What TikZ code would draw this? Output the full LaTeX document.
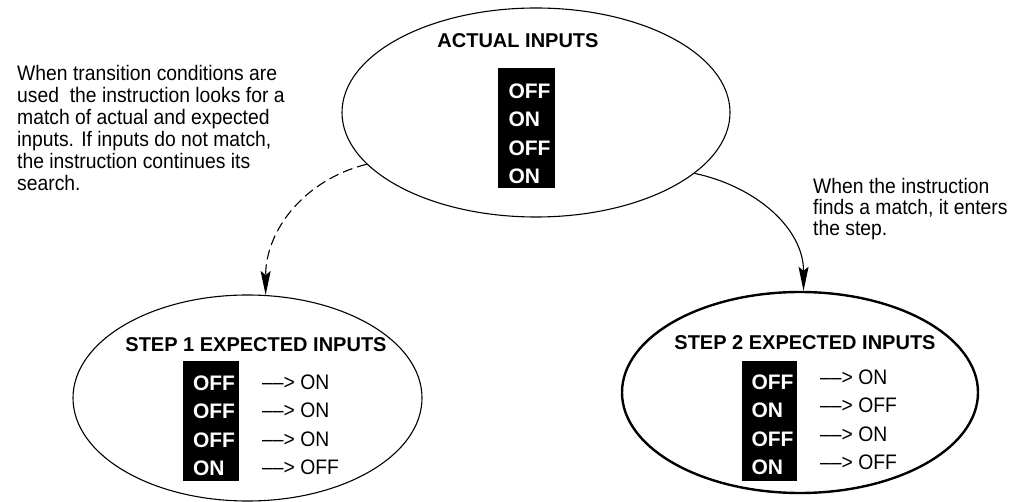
\documentclass[tikz,border=0pt]{standalone}
\usepackage{fontspec}
\setmainfont{Liberation Sans}
\newfontfamily\narrowfont[FakeStretch=0.92]{Liberation Sans}
\usetikzlibrary{shapes.geometric, arrows.meta}

\begin{document}
\begin{tikzpicture}[x=1pt, y=-1pt,
    oval/.style={ellipse, draw, line width=1.1pt, inner sep=0pt},
    head/.style={inner sep=0pt, font=\bfseries\fontsize{20}{24}\selectfont},
    inbox/.style={fill=black, text=white, align=left, inner sep=0pt, text width=36pt, minimum height=120pt, font=\bfseries\fontsize{21}{28.3}\selectfont},
    change/.style={align=left, inner sep=0pt, anchor=west, font=\narrowfont\fontsize{21}{28.5}\selectfont},
    note/.style={align=left, inner sep=0pt, anchor=north west, font=\narrowfont\fontsize{21}{22}\selectfont},
    link/.style={line width=1.1pt, -{Stealth[length=24pt, width=10pt, inset=4pt]}}]

    \useasboundingbox (0, 0) rectangle (1025, 502);

    \node[oval, minimum width=388pt, minimum height=209pt] (act) at (536, 112.5) {};
    \node[oval, minimum width=349pt, minimum height=206pt] (s1) at (247.5, 398) {};
    \node[oval, line width=2.4pt, minimum width=356pt, minimum height=201pt] (s2) at (800, 392.5) {};

    \node[head] (acthead) at (518, 41) {ACTUAL INPUTS};
    \node[head] (s1head) at (256, 345) {STEP 1 EXPECTED INPUTS};
    \node[head] (s2head) at (805, 343) {STEP 2 EXPECTED INPUTS};

    \node[inbox, minimum width=57pt] (actbox) at (526.5, 128) {\rule{0pt}{26pt}OFF\\ON\\OFF\\ON};
    \node[inbox, minimum width=56pt] (s1box) at (211, 421) {\rule{0pt}{24pt}OFF\\OFF\\OFF\\ON};
    \node[inbox, minimum width=55pt] (s2box) at (769.5, 421) {\rule{0pt}{22pt}OFF\\ON\\OFF\\ON};

    \node[change] (s1chg) at (262, 425) {\textendash\textendash> ON\\\textendash\textendash> ON\\\textendash\textendash> ON\\\textendash\textendash> OFF};
    \node[change] (s2chg) at (820, 420) {\textendash\textendash> ON\\\textendash\textendash> OFF\\\textendash\textendash> ON\\\textendash\textendash> OFF};

    \node[note] (leftnote) at (17, 65.5) {When transition conditions are\\used\ \ the instruction looks for a\\match of actual and expected\\inputs. If inputs do not match,\\the instruction continues its\\search.};
    \node[note, font=\narrowfont\fontsize{21}{21}\selectfont] (rightnote) at (813, 178.5) {When the instruction\\finds a match, it enters\\the step.};

    \draw[link, dash pattern=on 10pt off 5pt] (act.197) to[out=194, in=90] (s1.80);
    \draw[link] (act.339.5) to[out=-12, in=90] (s2.88);
\end{tikzpicture}
\end{document}
